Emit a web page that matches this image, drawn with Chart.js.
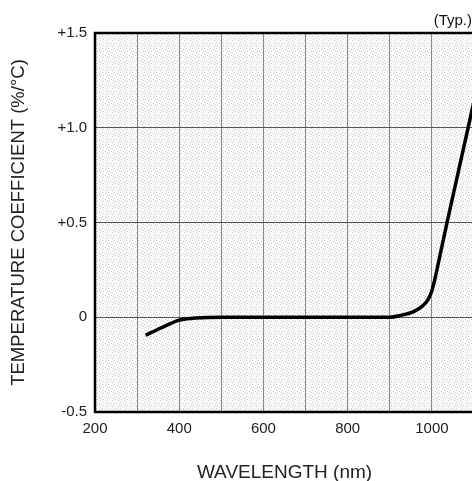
<!DOCTYPE html>
<html>
<head>
<meta charset="utf-8">
<script src="https://cdn.jsdelivr.net/npm/chart.js@4/dist/chart.umd.min.js"></script>
<style>
  html, body { margin: 0; padding: 0; background: #fff; overflow: hidden; }
  #wrap { width: 482px; height: 481px; }
</style>
</head>
<body>
<div id="wrap"><canvas id="coef" width="482" height="481"></canvas></div>
<script>
// wavelength (nm) and temperature coefficient (%/°C)
const wavelength = [320, 355, 400, 433, 470, 500, 600, 700, 800, 900, 926, 957, 978, 990, 1000, 1008, 1020, 1036, 1060, 1086, 1100]
const coefficient = [-0.095, -0.058, -0.015, -0.005, -0.001, 0, 0, 0, 0, 0, 0.01, 0.03, 0.06, 0.09, 0.14, 0.21, 0.335, 0.5, 0.74, 1.0, 1.14]
const xTicks = [200, 400, 600, 800, 1000]
const yTicks = [-0.5, 0, 0.5, 1.0, 1.5]

const font = "'Liberation Sans', Arial, sans-serif"

// dotted grey paper texture for the plot area
const makeTexture = () => {
    const c = document.createElement('canvas')
    c.width = 6
    c.height = 6
    const g = c.getContext('2d')
    g.fillStyle = '#fafafa'
    g.fillRect(0, 0, 6, 6)
    g.fillStyle = '#cccccc'
    ;[[0, 0], [3, 1], [1, 3], [4, 4], [5, 2]].forEach(([x, y]) => g.fillRect(x, y, 1, 1))
    return c
}

const frame = {
    id: 'frame',
    beforeDraw(chart) {
        const {ctx, chartArea: a} = chart
        ctx.save()
        ctx.fillStyle = ctx.createPattern(makeTexture(), 'repeat')
        ctx.fillRect(a.left, a.top, a.right - a.left, a.bottom - a.top)
        ctx.restore()
    },
    afterDraw(chart) {
        const {ctx, chartArea: a} = chart
        ctx.save()
        ctx.strokeStyle = '#000'
        ctx.lineWidth = 2.5
        ctx.strokeRect(a.left, a.top, a.right - a.left, a.bottom - a.top)
        ctx.fillStyle = '#111'
        ctx.font = '15px ' + font
        ctx.textAlign = 'right'
        ctx.textBaseline = 'middle'
        ctx.fillText('(Typ.)', a.right - 2, 21)
        ctx.restore()
    }
}

const ctx = document.getElementById('coef')

const chart = new Chart(ctx, {
    type: 'line',
    data: {
        datasets: [{
            data: wavelength.map((w, i) => ({x: w, y: coefficient[i]})),
            borderColor: '#000',
            borderWidth: 3.5,
            pointRadius: 0,
            cubicInterpolationMode: 'monotone',
            fill: false
        }]
    },
    options: {
        responsive: false,
        animation: false,
        layout: { padding: { top: 33, right: 0, left: 0, bottom: 0 } },
        plugins: {
            legend: { display: false },
            tooltip: { enabled: false }
        },
        scales: {
            x: {
                type: 'linear',
                min: 200,
                max: 1100,
                afterFit: (s) => { s.height = 69 },
                afterBuildTicks: (s) => { s.ticks = [200, 300, 400, 500, 600, 700, 800, 900, 1000, 1100].map(v => ({value: v})) },
                ticks: {
                    autoSkip: false,
                    maxRotation: 0,
                    padding: 8,
                    color: '#222',
                    font: { family: font, size: 15 },
                    callback: (v) => xTicks.includes(v) ? String(v) : ''
                },
                grid: { color: '#8a8a8a', lineWidth: 1, drawTicks: false },
                border: { display: false },
                title: {
                    display: true,
                    text: 'WAVELENGTH (nm)',
                    color: '#222',
                    font: { family: font, size: 19 },
                    padding: { top: 4, bottom: -3 }
                }
            },
            y: {
                min: -0.5,
                max: 1.5,
                afterFit: (s) => { s.width = 95 },
                afterBuildTicks: (s) => { s.ticks = yTicks.map(v => ({value: v})) },
                ticks: {
                    padding: 8,
                    color: '#222',
                    font: { family: font, size: 15 },
                    callback: (v) => v > 0 ? '+' + v.toFixed(1) : (v === 0 ? '0' : v.toFixed(1))
                },
                grid: { color: '#555', lineWidth: 1, drawTicks: false },
                border: { display: false },
                title: {
                    display: true,
                    text: 'TEMPERATURE COEFFICIENT (%/°C)',
                    color: '#222',
                    font: { family: font, size: 18.5 },
                    padding: { top: 8, bottom: 10 }
                }
            }
        }
    },
    plugins: [frame]
});
</script>
</body>
</html>
